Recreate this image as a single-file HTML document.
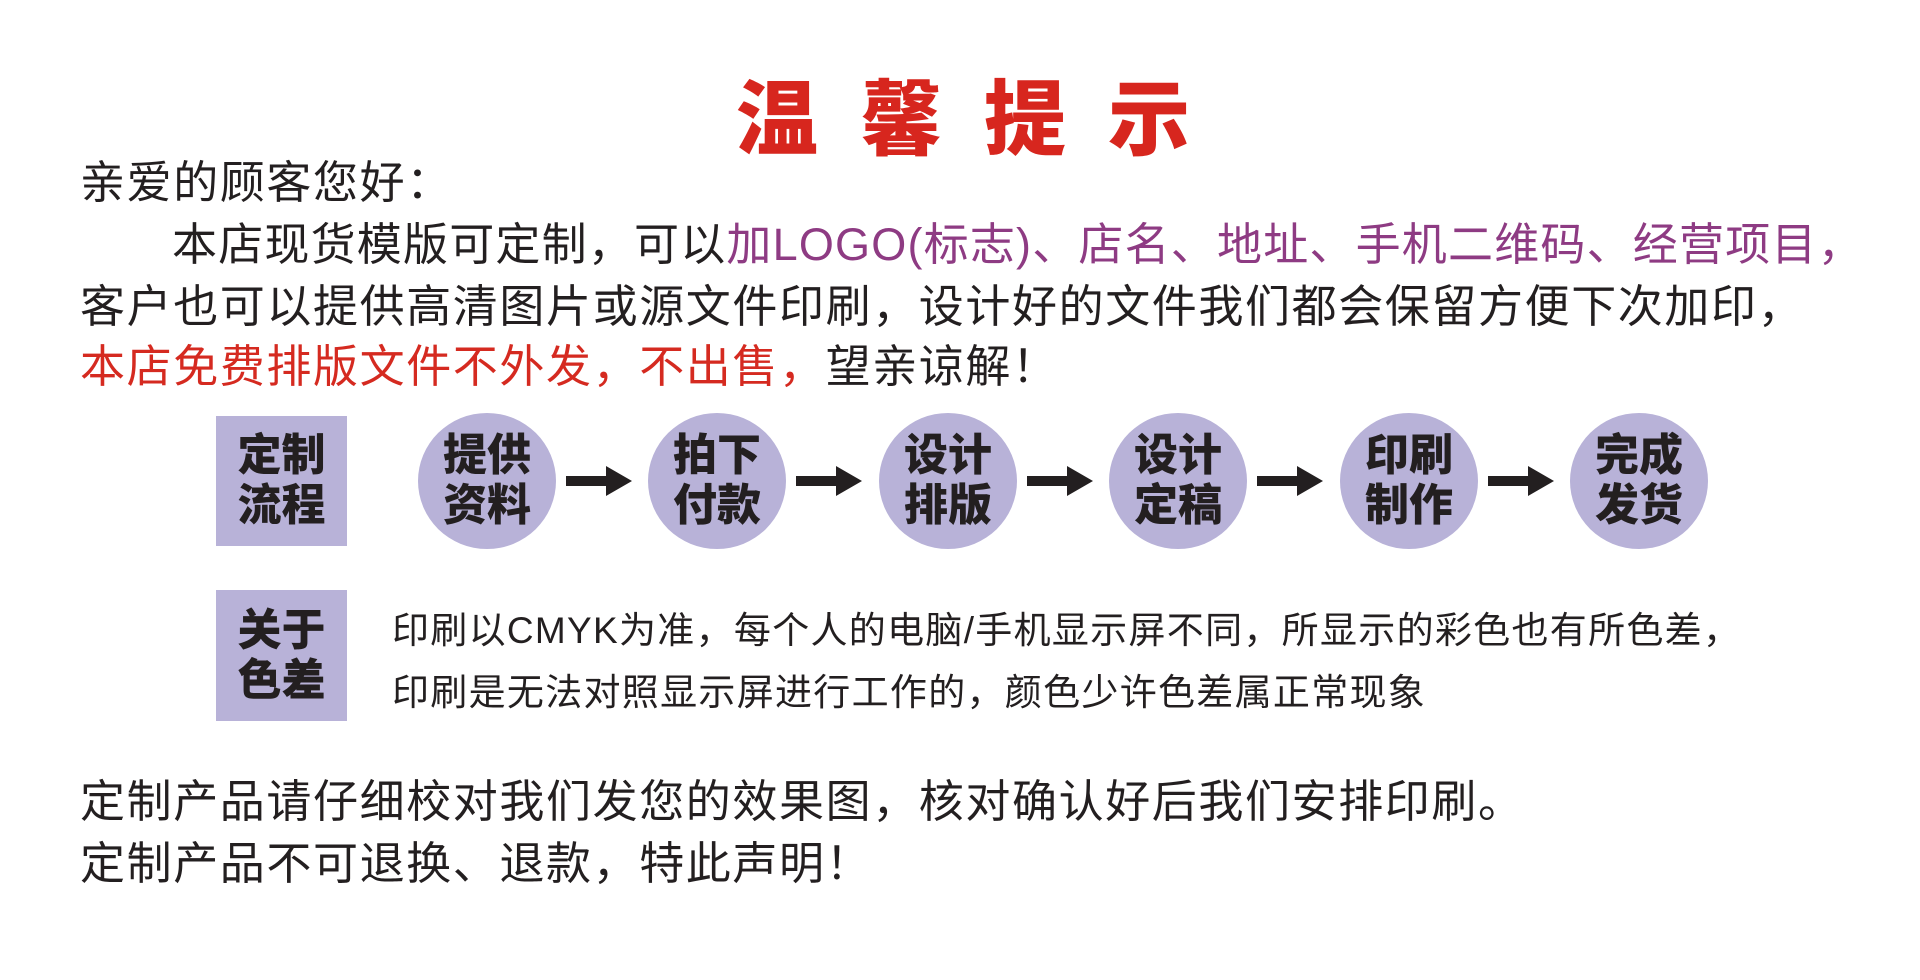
<!DOCTYPE html>
<html><head><meta charset="utf-8"><style>
body{margin:0;width:1920px;height:980px;background:#fff;position:relative;overflow:hidden;font-family:"Liberation Sans","Noto Sans CJK SC",sans-serif;color:#231f20}
.t{position:absolute;white-space:nowrap;line-height:1}
.m{font-size:45px;letter-spacing:1.6px}
.title{left:736px;top:80px;font-size:82px;font-weight:900;color:#d7261e;letter-spacing:42px}
.p{color:#8e3b83}.r{color:#d52a20}
.box{position:absolute;left:216px;width:131px;background:#b8b2d8;display:flex;align-items:center;justify-content:center;font-weight:900;font-size:44px;line-height:50px;text-align:center}
.c{position:absolute;width:138px;height:136px;border-radius:50%;background:#b8b2d8;display:flex;align-items:center;justify-content:center;font-weight:900;font-size:44px;line-height:50px;text-align:center;top:413px}
.a{position:absolute;top:466px;width:66px;height:30px}
.s{font-size:37px;letter-spacing:1.3px}
</style></head><body>
<div class="t title">温馨提示</div>
<div class="t m" style="left:80px;top:160px">亲爱的顾客您好：</div>
<div class="t m" style="left:172px;top:222px;letter-spacing:1.2px">本店现货模版可定制，可以<span class="p">加LOGO(标志)、店名、地址、手机二维码、经营项目，</span></div>
<div class="t m" style="left:80px;top:284px">客户也可以提供高清图片或源文件印刷，设计好的文件我们都会保留方便下次加印，</div>
<div class="t m" style="left:80px;top:344px"><span class="r">本店免费排版文件不外发，不出售，</span>望亲谅解！</div>
<div class="box" style="top:416px;height:130px">定制<br>流程</div>
<div class="c" style="left:418px">提供<br>资料</div>
<div class="c" style="left:648px">拍下<br>付款</div>
<div class="c" style="left:879px">设计<br>排版</div>
<div class="c" style="left:1109px">设计<br>定稿</div>
<div class="c" style="left:1340px">印刷<br>制作</div>
<div class="c" style="left:1570px">完成<br>发货</div>
<svg class="a" style="left:566px" viewBox="0 0 66 30"><path d="M0 10H40V0L66 15L40 30V20H0Z" fill="#231f20"/></svg>
<svg class="a" style="left:796px" viewBox="0 0 66 30"><path d="M0 10H40V0L66 15L40 30V20H0Z" fill="#231f20"/></svg>
<svg class="a" style="left:1027px" viewBox="0 0 66 30"><path d="M0 10H40V0L66 15L40 30V20H0Z" fill="#231f20"/></svg>
<svg class="a" style="left:1257px" viewBox="0 0 66 30"><path d="M0 10H40V0L66 15L40 30V20H0Z" fill="#231f20"/></svg>
<svg class="a" style="left:1488px" viewBox="0 0 66 30"><path d="M0 10H40V0L66 15L40 30V20H0Z" fill="#231f20"/></svg>
<div class="box" style="top:590px;height:131px">关于<br>色差</div>
<div class="t s" style="left:392px;top:612px">印刷以CMYK为准，每个人的电脑/手机显示屏不同，所显示的彩色也有所色差，</div>
<div class="t s" style="left:392px;top:674px">印刷是无法对照显示屏进行工作的，颜色少许色差属正常现象</div>
<div class="t m" style="left:80px;top:779px">定制产品请仔细校对我们发您的效果图，核对确认好后我们安排印刷。</div>
<div class="t m" style="left:80px;top:841px">定制产品不可退换、退款，特此声明！</div>
</body></html>
